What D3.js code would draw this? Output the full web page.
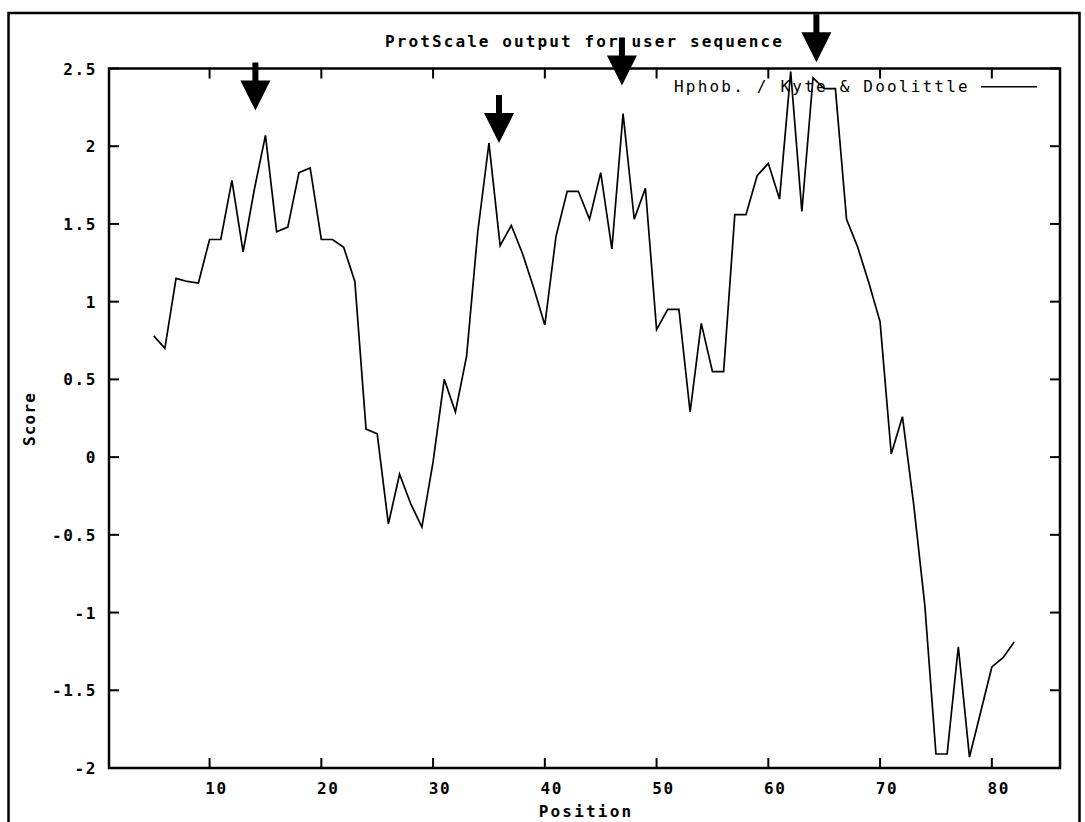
<!DOCTYPE html>
<html>
<head>
<meta charset="utf-8">
<script src="https://cdn.jsdelivr.net/npm/d3@7"></script>
<style>
  body { margin: 0; background: #fff; }
  text { font-family: "DejaVu Sans Mono", monospace; fill: #000; }
</style>
</head>
<body>
<script>
// ProtScale hydrophobicity profile (Kyte & Doolittle), window positions 5..82
var positions = [5, 6, 7, 8, 9, 10, 11, 12, 13, 14, 15, 16, 17, 18, 19, 20, 21, 22, 23, 24,
    25, 26, 27, 28, 29, 30, 31, 32, 33, 34, 35, 36, 37, 38, 39, 40, 41, 42, 43, 44,
    45, 46, 47, 48, 49, 50, 51, 52, 53, 54, 55, 56, 57, 58, 59, 60, 61, 62, 63, 64,
    65, 66, 67, 68, 69, 70, 71, 72, 73, 74, 75, 76, 77, 78, 79, 80, 81, 82];
var scores = [0.78, 0.70, 1.15, 1.13, 1.12, 1.40, 1.40, 1.78, 1.32, 1.72,
    2.07, 1.45, 1.48, 1.83, 1.86, 1.40, 1.40, 1.35, 1.13, 0.18,
    0.15, -0.43, -0.11, -0.30, -0.45, -0.03, 0.50, 0.29, 0.65, 1.45,
    2.02, 1.36, 1.49, 1.31, 1.09, 0.85, 1.42, 1.71, 1.71, 1.53,
    1.83, 1.34, 2.21, 1.53, 1.73, 0.82, 0.95, 0.95, 0.29, 0.86,
    0.55, 0.55, 1.56, 1.56, 1.81, 1.89, 1.66, 2.48, 1.58, 2.44,
    2.37, 2.37, 1.53, 1.35, 1.12, 0.87, 0.02, 0.26, -0.30, -0.95,
    -1.91, -1.91, -1.22, -1.93, -1.64, -1.35, -1.29, -1.19];
var xTicks = [10, 20, 30, 40, 50, 60, 70, 80];
var yTicks = [-2, -1.5, -1, -0.5, 0, 0.5, 1, 1.5, 2, 2.5];
var yTickLabels = ["-2", "-1.5", "-1", "-0.5", "0", "0.5", "1", "1.5", "2", "2.5"];
// hand-drawn arrows marking the peaks
var arrowPos = [14.1, 35.9, 46.9, 64.3];
var arrowTip = [2.23, 2.02, 2.39, 2.54];

var W = 1085, H = 822;
var margin = {left: 109, right: 25, top: 68.5, bottom: 54};

var svg = d3.select("body").append("svg").attr("width", W).attr("height", H);

var x = d3.scaleLinear().domain([1, 86.1]).range([margin.left, W - margin.right]);
var y = d3.scaleLinear().domain([-2, 2.5]).range([H - margin.bottom, margin.top]);

// outer frame
svg.append("rect").attr("x", 8.5).attr("y", 13).attr("width", 1071).attr("height", 830)
    .attr("fill", "none").attr("stroke", "#000").attr("stroke-width", 2.5);

// ticks on all four sides, pointing inward
var tickLen = 10;
var ticks = svg.append("g").attr("stroke", "#000").attr("stroke-width", 2);
xTicks.forEach(function (t) {
    ticks.append("line").attr("x1", x(t)).attr("x2", x(t)).attr("y1", y(-2)).attr("y2", y(-2) - tickLen);
    ticks.append("line").attr("x1", x(t)).attr("x2", x(t)).attr("y1", y(2.5)).attr("y2", y(2.5) + tickLen);
});
yTicks.forEach(function (t) {
    ticks.append("line").attr("x1", x(1)).attr("x2", x(1) + tickLen).attr("y1", y(t)).attr("y2", y(t));
    ticks.append("line").attr("x1", x(86.1)).attr("x2", x(86.1) - tickLen).attr("y1", y(t)).attr("y2", y(t));
});

// plot border
svg.append("rect").attr("x", x(1)).attr("y", y(2.5))
    .attr("width", x(86.1) - x(1)).attr("height", y(-2) - y(2.5))
    .attr("fill", "none").attr("stroke", "#000").attr("stroke-width", 2.5);

// tick labels
svg.append("g").selectAll("text").data(xTicks).enter().append("text")
    .attr("x", function (d) { return x(d) + 7; })
    .attr("y", 794)
    .attr("text-anchor", "middle")
    .style("font-size", "16px").style("font-weight", "bold").style("letter-spacing", "1.8px")
    .text(function (d) { return d; });

svg.append("g").selectAll("text").data(yTicks).enter().append("text")
    .attr("x", 97)
    .attr("y", function (d) { return y(d) + 6; })
    .attr("text-anchor", "end")
    .style("font-size", "16px").style("font-weight", "bold").style("letter-spacing", "1.6px")
    .text(function (d, i) { return yTickLabels[i]; });

// title and axis titles
svg.append("text").attr("x", 385).attr("y", 47)
    .style("font-size", "16px").style("font-weight", "bold").style("letter-spacing", "2.1px")
    .text("ProtScale output for user sequence");

svg.append("text").attr("x", 586).attr("y", 817).attr("text-anchor", "middle")
    .style("font-size", "16px").style("font-weight", "bold").style("letter-spacing", "2.2px")
    .text("Position");

svg.append("text").attr("transform", "translate(35,419) rotate(-90)").attr("text-anchor", "middle")
    .style("font-size", "16px").style("font-weight", "bold").style("letter-spacing", "1.2px")
    .text("Score");

// legend
svg.append("text").attr("x", 674).attr("y", 92)
    .style("font-size", "16px").style("letter-spacing", "2.2px")
    .text("Hphob. / Kyte & Doolittle");
svg.append("line").attr("x1", 981).attr("x2", 1037).attr("y1", 86.7).attr("y2", 86.7)
    .attr("stroke", "#000").attr("stroke-width", 1.5);

// profile line
var line = d3.line()
    .x(function (d, i) { return x(positions[i]); })
    .y(function (d) { return y(d); });
svg.append("path").attr("d", line(scores))
    .attr("fill", "none").attr("stroke", "#000").attr("stroke-width", 1.7)
    .attr("stroke-linejoin", "miter");

// arrows: shaft + triangular head, tip at (position, score)
var shaftLen = 18, shaftW = 6, headW = 30, headH = 30;
svg.append("g").selectAll("path").data(arrowPos).enter().append("path")
    .attr("d", function (d, i) {
        var cx = x(d), tip = y(arrowTip[i]);
        var base = tip - headH, top = base - shaftLen;
        return "M" + (cx - shaftW / 2) + "," + top +
            "L" + (cx + shaftW / 2) + "," + top +
            "L" + (cx + shaftW / 2) + "," + base +
            "L" + (cx + headW / 2) + "," + base +
            "L" + cx + "," + tip +
            "L" + (cx - headW / 2) + "," + base +
            "L" + (cx - shaftW / 2) + "," + base + "Z";
    })
    .attr("fill", "#000");
</script>
</body>
</html>
